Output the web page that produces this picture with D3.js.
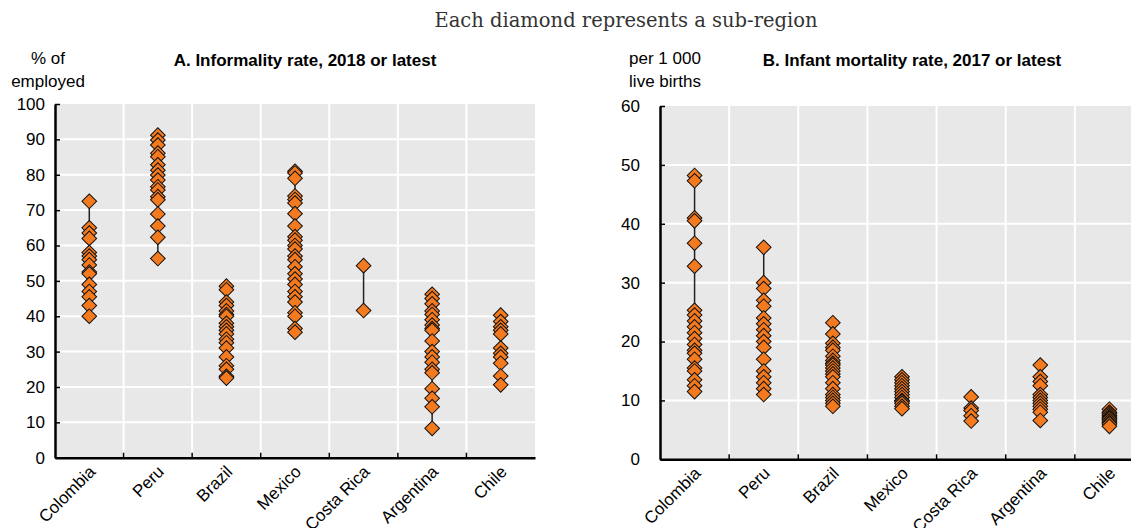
<!DOCTYPE html>
<html>
<head>
<meta charset="utf-8">
<script src="https://cdn.jsdelivr.net/npm/d3@7"></script>
<style>
  body { margin: 0; background: #fff; }
  svg text { font-family: "Liberation Sans Narrow", "Arial Narrow", "Liberation Sans", sans-serif; fill: #000; }
</style>
</head>
<body>
<div id="chart"></div>
<script>
// Data
const categories = ["Colombia", "Peru", "Brazil", "Mexico", "Costa Rica", "Argentina", "Chile"];

// Panel A: informality rate (% of employed), one array per country in category order
const informality = [
  [72.5, 65, 63.5, 62, 58, 57, 56, 54.5, 52.5, 52, 49, 47, 45.5, 43, 40],
  [91.2, 89.8, 88.4, 86.1, 85.1, 82.8, 81.3, 79.9, 78.5, 76.6, 75.7, 73.8, 72.9, 68.9, 65.5, 62.3, 56.3],
  [48.5, 47.5, 44, 43, 41.5, 40.5, 40, 38, 37, 36, 35, 33.5, 32.5, 31, 28.5, 26, 25, 23, 22.5],
  [81, 80.5, 79, 74, 73, 72, 69, 65.5, 62.5, 61.5, 60, 59, 57, 56, 54, 52, 50.5, 49, 47, 45.5, 44, 41, 40, 36.5, 35.5],
  [54.3, 41.6],
  [46.2, 45, 43.5, 41.5, 40.5, 39, 37.5, 36.5, 36, 33, 30, 28.5, 27, 25, 24, 19.5, 16.8, 14.4, 8.3],
  [40.3, 38.5, 37, 36, 35, 31, 29.5, 28.5, 26.7, 23.1, 20.6]
];

// Panel B: infant mortality rate (per 1 000 live births)
const mortality = [
  [48.2, 47.3, 41, 40.5, 36.7, 32.8, 25.3, 24.5, 23.5, 22.5, 21.5, 20.5, 19.5, 18.5, 18, 17, 15.5, 15, 13.5, 12.5, 11.5],
  [36, 30, 29, 27, 26, 24, 23, 22, 21, 20, 19, 17, 15, 14, 13, 12, 11],
  [23.2, 21.3, 19.7, 19, 18.5, 17.5, 16.8, 16.3, 16, 15.5, 15, 14.5, 14, 13, 12, 11, 10.5, 10, 9.5, 9],
  [14, 13.5, 13, 12.5, 12, 11.5, 11, 10.5, 10, 9.8, 9.5, 9, 8.6],
  [10.6, 8.7, 8.3, 7.4, 6.5],
  [16, 14, 13.2, 12.5, 11, 10.5, 10, 9.5, 9, 8.5, 8, 6.6],
  [8.5, 8, 7.8, 7.5, 7.2, 7, 6.8, 6.5, 6.2, 6, 5.6]
];

const ticksA = [0, 10, 20, 30, 40, 50, 60, 70, 80, 90, 100];
const ticksB = [0, 10, 20, 30, 40, 50, 60];

const WIDTH = 1131, HEIGHT = 528;
const ORANGE = "#f47a1f";
const GRID_BG = "#e8e8e8";

const svg = d3.select("#chart").append("svg")
    .attr("width", WIDTH)
    .attr("height", HEIGHT);

// Header
svg.append("text")
    .attr("x", 626).attr("y", 27)
    .attr("text-anchor", "middle")
    .style("font-family", "'DejaVu Serif', serif")
    .style("font-size", "19.5px")
    .style("fill", "#333")
    .text("Each diamond represents a sub-region");

function drawPanel(cfg) {
  const g = svg.append("g");

  const x = d3.scaleBand().domain(categories).range([cfg.left, cfg.right]);
  const y = d3.scaleLinear().domain(cfg.domain).range([cfg.bottom, cfg.top]);

  // background
  g.append("rect")
      .attr("x", cfg.left).attr("y", cfg.top)
      .attr("width", cfg.right - cfg.left).attr("height", cfg.bottom - cfg.top)
      .attr("fill", GRID_BG);

  // horizontal grid
  g.selectAll(".hgrid").data(cfg.ticks.slice(1, -1)).enter()
    .append("line")
      .attr("x1", cfg.left).attr("x2", cfg.right)
      .attr("y1", d => y(d)).attr("y2", d => y(d))
      .attr("stroke", "#fff").attr("stroke-width", 2);

  // vertical grid at band boundaries
  const bounds = categories.slice(1).map(c => x(c));
  g.selectAll(".vgrid").data(bounds).enter()
    .append("line")
      .attr("x1", d => d).attr("x2", d => d)
      .attr("y1", cfg.top).attr("y2", cfg.bottom)
      .attr("stroke", "#fff").attr("stroke-width", 2);

  // y axis
  const yAxis = g.append("g")
      .attr("transform", "translate(" + cfg.left + ",0)")
      .call(d3.axisLeft(y).tickValues(cfg.ticks).tickSizeInner(-5).tickSizeOuter(0).tickPadding(cfg.tickPad));
  yAxis.select(".domain").attr("stroke", "#000").attr("stroke-width", 2.5);
  yAxis.selectAll(".tick line").attr("stroke", "#000").attr("stroke-width", 1.5);
  yAxis.selectAll(".tick text").style("font-size", "17px");

  // x axis
  const xAxis = g.append("g")
      .attr("transform", "translate(0," + cfg.bottom + ")")
      .call(d3.axisBottom(x).tickSize(0).tickSizeOuter(0));
  xAxis.select(".domain").attr("stroke", "#000").attr("stroke-width", 2.5);
  xAxis.selectAll(".tick text")
      .style("font-size", "17px")
      .attr("text-anchor", "end")
      .attr("dy", "0")
      .attr("transform", "translate(5,13) rotate(-45)");
  g.selectAll(".xtick").data(bounds).enter()
    .append("line")
      .attr("x1", d => d).attr("x2", d => d)
      .attr("y1", cfg.bottom).attr("y2", cfg.bottom - 5)
      .attr("stroke", "#000").attr("stroke-width", 1.5);

  // range lines and diamonds
  const groups = g.selectAll(".cat").data(cfg.values).enter()
    .append("g")
      .attr("transform", (d, i) => "translate(" + (x(categories[i]) + x.bandwidth() / 2) + ",0)");

  groups.append("line")
      .attr("x1", 0).attr("x2", 0)
      .attr("y1", d => y(d3.max(d))).attr("y2", d => y(d3.min(d)))
      .attr("stroke", "#222").attr("stroke-width", 1.5);

  const diamond = d3.symbol(d3.symbolSquare, 108);
  groups.selectAll("path").data(d => d).enter()
    .append("path")
      .attr("d", diamond)
      .attr("transform", d => "translate(0," + y(d) + ") rotate(45)")
      .attr("fill", ORANGE)
      .attr("stroke", "#111")
      .attr("stroke-width", 1);

  // title
  g.append("text")
      .attr("x", cfg.titleX).attr("y", 66)
      .attr("text-anchor", "middle")
      .style("font-size", "17px").style("font-weight", "bold")
      .text(cfg.title);

  // unit label
  g.selectAll(".unit").data(cfg.unit).enter()
    .append("text")
      .attr("x", cfg.unitX).attr("y", (d, i) => 64 + i * 23)
      .attr("text-anchor", "middle")
      .style("font-size", "17px")
      .text(d => d);
}

drawPanel({
  left: 55, right: 535, top: 104, bottom: 457.7,
  domain: [0, 100], ticks: ticksA, values: informality, tickPad: 10,
  title: "A. Informality rate, 2018 or latest", titleX: 305,
  unit: ["% of", "employed"], unitX: 48
});

drawPanel({
  left: 660, right: 1144, top: 106, bottom: 459.3,
  domain: [0, 60], ticks: ticksB, values: mortality, tickPad: 20,
  title: "B. Infant mortality rate, 2017 or latest", titleX: 912,
  unit: ["per  1 000", "live births"], unitX: 665
});
</script>
</body>
</html>
